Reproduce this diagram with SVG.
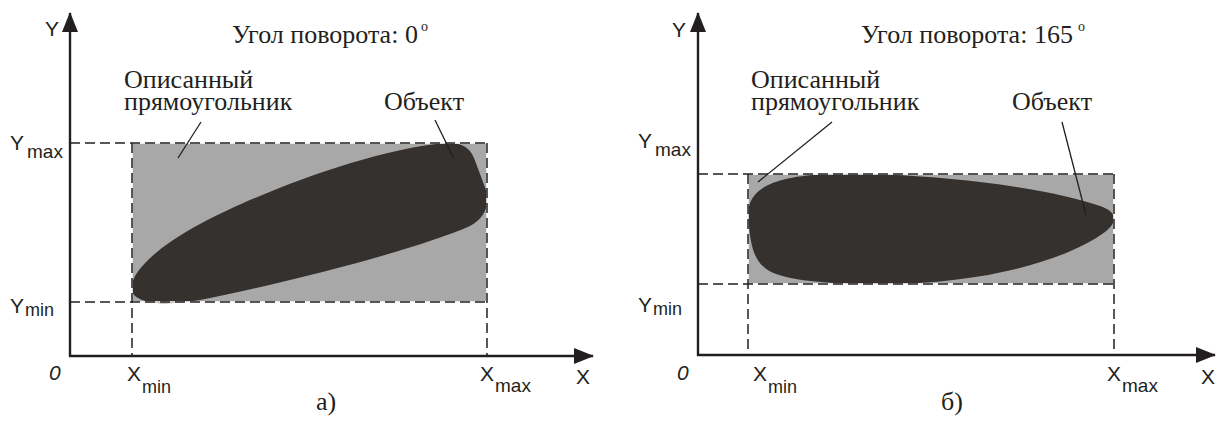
<svg xmlns="http://www.w3.org/2000/svg" width="1216" height="425" viewBox="0 0 1216 425">
  <style>
    .axis { stroke: #231f20; stroke-width: 2.4; fill: none; }
    .dash { stroke: #231f20; stroke-width: 1.5; stroke-dasharray: 10 5; fill: none; }
    .gap { stroke: #ffffff; stroke-width: 1.5; fill: none; }
    .lead { stroke: #231f20; stroke-width: 1.3; fill: none; }
    .box { fill: #a8a8a8; }
    .obj { fill: #35312f; }
    .serif { font-family: "Liberation Serif", "Times New Roman", serif; font-size: 26px; fill: #231f20; }
    .sans { font-family: "Liberation Sans", Arial, sans-serif; font-size: 21px; fill: #231f20; }
    .sub { font-size: 18px; }
    .subw { font-size: 19px; }
    .ital { font-style: italic; }
  </style>
  <defs>
    <marker id="arrow" viewBox="0 0 20 16" refX="19" refY="8" markerWidth="20" markerHeight="16" markerUnits="userSpaceOnUse" orient="auto">
      <path d="M0,0 L20,8 L0,16 Z" fill="#231f20"/>
    </marker>
  </defs>

  <!-- Panel a -->
  <g id="panel-a">
    <g id="a-box">
      <rect class="box" x="132" y="143" width="355" height="159"/>
    </g>
    <g id="a-object">
      <path class="obj" d="M132,288 C130,272 160,245 200,224 C260,192 370,150 445,143 C462,142 470,148 474,158 L486,190 C490,205 485,218 470,226 C420,248 300,280 200,300 C170,305 150,304 140,299 C133,296 132,292 132,288 Z"/>
    </g>
    <g id="a-lines">
      <rect class="gap" x="132" y="143" width="355" height="159"/>
      <path class="dash" d="M70,143 H487"/>
      <path class="dash" d="M70,302 H487"/>
      <path class="dash" d="M132,143 V356"/>
      <path class="dash" d="M487,143 V356"/>
      <path class="axis" d="M70,357 V13" marker-end="url(#arrow)"/>
      <path class="axis" d="M69,356 H593" marker-end="url(#arrow)"/>
      <path class="lead" d="M201,122 L178,158"/>
      <path class="lead" d="M435,120 L454,159"/>
    </g>
    <g id="a-labels">
      <text class="serif" x="232" y="43">Угол поворота: 0<tspan dx="3" dy="-12" font-size="14">o</tspan></text>
      <text class="serif" x="124" y="88">Описанный</text>
      <text class="serif" x="124" y="110">прямоугольник</text>
      <text class="serif" x="384" y="110">Объект</text>
      <text class="sans" x="45" y="36">Y</text>
      <text class="sans" x="10" y="150">Y<tspan class="subw" dx="3" dy="8">max</tspan></text>
      <text class="sans" x="10" y="313">Y<tspan class="sub" dx="1" dy="3">min</tspan></text>
      <text class="sans ital" x="49" y="380">0</text>
      <text class="sans" x="127" y="381">X<tspan class="sub" dx="1" dy="12">min</tspan></text>
      <text class="sans" x="480" y="381">X<tspan class="subw" dx="1" dy="11">max</tspan></text>
      <text class="sans" x="576" y="384">X</text>
      <text class="serif" x="326" y="410" text-anchor="middle">а)</text>
    </g>
  </g>

  <!-- Panel b -->
  <g id="panel-b">
    <g id="b-box">
      <rect class="box" x="748" y="174" width="366" height="110"/>
    </g>
    <g id="b-object">
      <path class="obj" d="M748,215 C748,190 770,176 830,174 C930,172 1050,188 1100,206 C1118,212 1118,222 1105,232 C1070,258 990,284 880,284 C820,284 780,280 765,268 C752,258 750,240 748,215 Z"/>
    </g>
    <g id="b-lines">
      <rect class="gap" x="748" y="174" width="366" height="110"/>
      <path class="dash" d="M698,174 H1114"/>
      <path class="dash" d="M698,284 H1114"/>
      <path class="dash" d="M748,174 V355"/>
      <path class="dash" d="M1114,174 V355"/>
      <path class="axis" d="M698,356 V13" marker-end="url(#arrow)"/>
      <path class="axis" d="M697,355 H1215" marker-end="url(#arrow)"/>
      <path class="lead" d="M832,122 L758,182"/>
      <path class="lead" d="M1062,122 L1086,215"/>
    </g>
    <g id="b-labels">
      <text class="serif" x="861" y="43">Угол поворота: 165<tspan dx="5" dy="-12" font-size="14">o</tspan></text>
      <text class="serif" x="751" y="88">Описанный</text>
      <text class="serif" x="751" y="110">прямоугольник</text>
      <text class="serif" x="1012" y="110">Объект</text>
      <text class="sans" x="672" y="37">Y</text>
      <text class="sans" x="638" y="148">Y<tspan class="subw" dx="3" dy="8">max</tspan></text>
      <text class="sans" x="638" y="312">Y<tspan class="sub" dx="1" dy="3">min</tspan></text>
      <text class="sans ital" x="677" y="380">0</text>
      <text class="sans" x="753" y="381">X<tspan class="sub" dx="1" dy="12">min</tspan></text>
      <text class="sans" x="1107" y="381">X<tspan class="subw" dx="1" dy="11">max</tspan></text>
      <text class="sans" x="1201" y="384">X</text>
      <text class="serif" x="952" y="410" text-anchor="middle">б)</text>
    </g>
  </g>
</svg>
